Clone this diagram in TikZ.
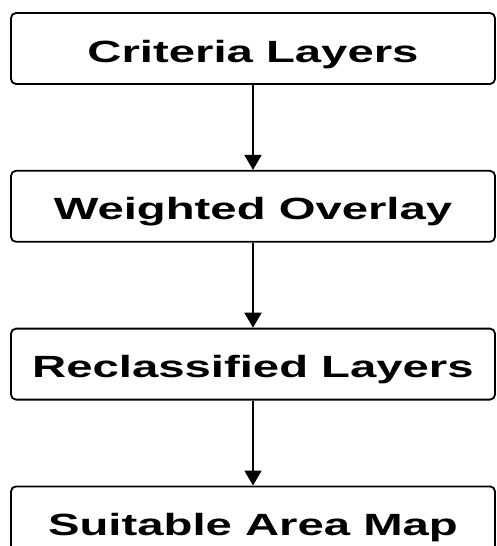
\documentclass[tikz,border=0pt]{standalone}
\usepackage{fontspec}
\setmainfont{Liberation Sans}
\usepackage{graphicx}
\usetikzlibrary{positioning,arrows.meta}
\newcommand{\widetext}[1]{\scalebox{1.54}[1]{#1}}
\begin{document}
\begin{tikzpicture}[x=1pt, y=1pt, thick,
		stage/.style={draw, line width=1.8pt, rounded corners=5pt, minimum width=484pt,
			minimum height=71pt, inner sep=0pt, text height=27pt, text depth=0pt,
			font=\fontsize{30.7}{32}\selectfont\bfseries},
		flow/.style={line width=1.8pt, -{Triangle[width=17pt, length=15pt]}}]
		\useasboundingbox (0,0) rectangle (497,-546);

		% Draw the stages
		\node[stage] (crit) at (253,-48.5) {\widetext{Criteria Layers}};
		\node[stage, below=85pt of crit] (wover) {\widetext{Weighted Overlay}};
		\node[stage, below=85pt of wover] (recl) {\widetext{Reclassified Layers}};
		\node[stage, below=85pt of recl] (suit) {\widetext{Suitable Area Map}};

		% Connect them
		\draw[flow] (crit) -- (wover);
		\draw[flow] (wover) -- (recl);
		\draw[flow] (recl) -- (suit);
	\end{tikzpicture}
\end{document}
